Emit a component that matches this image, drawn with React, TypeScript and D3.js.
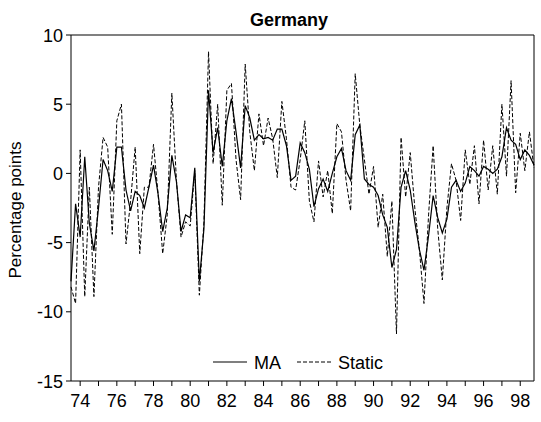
import React from "react";
import * as d3 from "d3";

const startYear = 1973.5; // 1973Q3
const ma = [
  -7.8, -2.2, -4.6, 1.2, -3.6, -5.6, -2.5, 1.0, 0.2, -1.3,
  1.9, 1.9, -1.2, -2.7, -1.3, -1.6, -2.5, -1.0, 0.6, -1.5,
  -4.2, -2.5, 1.3, -0.6, -4.2, -3.0, -3.2, 0.4, -7.8, -4.0,
  6.0, 1.5, 3.3, 0.5, 3.8, 5.4, 3.0, 0.4, 4.9, 4.0,
  2.4, 2.8, 2.5, 2.6, 2.4, 3.2, 3.2, 2.0, -0.5, -0.2,
  2.2, 1.5, 0.3, -2.4, -1.1, -0.4, -1.3, 0.0, 1.2, 1.8,
  0.2, -0.5, 2.8, 3.5, -0.4, -0.8, -1.0, -1.6, -3.0, -3.9,
  -6.8, -5.5, -1.0, 0.2, -1.2, -3.5, -5.5, -7.0, -4.5, -1.6,
  -3.2, -4.3, -3.3, -1.0, -0.5, -1.3, -0.7, 0.5, 0.2, -0.2,
  0.5, 0.3, 0.0, 0.3, 1.2, 3.3, 2.4, 2.1, 1.0, 1.7,
  1.3, 0.6,
];
const staticF = [
  -8.2, -9.4, 1.7, -8.9, -1.0, -8.9, -1.0, 2.6, 1.9, -4.4,
  3.8, 5.0, -5.1, -2.0, 1.9, -5.8, -1.0, -1.0, 2.1, -1.5,
  -5.8, -3.0, 5.8, -0.5, -4.6, -3.5, -3.8, 0.2, -8.8, -3.5,
  8.8, 0.7, 5.0, -2.3, 6.0, 6.5, 1.0, -1.9, 7.9, 3.0,
  0.2, 4.3, 2.0, 4.0, 2.5, -0.3, 5.2, 2.5, -1.0, -1.2,
  1.0, 3.8, -2.0, -3.5, 0.9, -1.7, 0.2, -2.9, 3.6, 3.0,
  -0.5, -2.7, 7.2, 3.5, 1.0, -1.5, 0.5, -3.9, -1.5, -6.0,
  -2.0, -11.6, 2.6, -1.7, 1.5, -2.5, -5.5, -9.4, -3.0, 2.0,
  -4.0, -7.7, -2.5, 0.7, -0.5, -3.4, 1.7, -0.8, 2.0, -2.2,
  2.4, -1.2, 2.0, -1.5, 5.0, -0.2, 6.7, -1.4, 2.9, 0.2,
  3.0, 0.4,
];
const yTicks = [10, 5, 0, -5, -10, -15];
const xTickYears = d3.range(1974, 1999);
const xLabelYears = d3.range(1974, 1999, 2);
const seriesNames = ["MA", "Static"];

const W = 541;
const H = 422;
const L = 71, R = 534, T = 35, B = 381;
const font = "'Liberation Sans', Arial, Helvetica, sans-serif";

export default function App() {
  const x = d3.scaleLinear().domain([startYear, startYear + 0.25 * (ma.length - 1)]).range([L, R]);
  const y = d3.scaleLinear().domain([-15, 10]).range([B, T]);
  const line = d3
    .line<number>()
    .x((_, i) => x(startYear + i * 0.25))
    .y((d) => y(d));

  return (
    <svg width={W} height={H} style={{ position: "absolute", left: 0, top: 0, background: "#fff" }}>
      <rect x={0} y={0} width={W} height={H} fill="#fff" />
      <text x={289} y={26} textAnchor="middle" fontFamily={font} fontWeight="bold" fontSize={18}>
        Germany
      </text>
      <text
        transform={`translate(21,${(T + B) / 2 + 2}) rotate(-90)`}
        textAnchor="middle"
        fontFamily={font}
        fontSize={17}
      >
        Percentage points
      </text>
      {/* data */}
      <path d={line(staticF) || ""} fill="none" stroke="#000" strokeWidth={1} strokeDasharray="4,2" />
      <path d={line(ma) || ""} fill="none" stroke="#000" strokeWidth={1.2} />
      {/* frame */}
      <line x1={L} x2={R} y1={T} y2={T} stroke="#808080" strokeWidth={2} />
      <line x1={L} x2={L} y1={T} y2={B} stroke="#000" strokeWidth={1} />
      <line x1={R} x2={R} y1={T} y2={B} stroke="#000" strokeWidth={1} />
      <line x1={L} x2={R} y1={B} y2={B} stroke="#000" strokeWidth={1} />
      {/* y ticks */}
      {yTicks.map((t) => (
        <g key={t}>
          <line x1={L - 5} x2={L} y1={y(t)} y2={y(t)} stroke="#000" strokeWidth={1} />
          <text x={L - 8} y={y(t) + 6.5} textAnchor="end" fontFamily={font} fontSize={18}>
            {t}
          </text>
        </g>
      ))}
      {/* x ticks */}
      {xTickYears.map((yr) => (
        <line key={yr} x1={x(yr)} x2={x(yr)} y1={B} y2={B + 5} stroke="#000" strokeWidth={1} />
      ))}
      {xLabelYears.map((yr) => (
        <text key={yr} x={x(yr)} y={407} textAnchor="middle" fontFamily={font} fontSize={18}>
          {String(yr).slice(2)}
        </text>
      ))}
      {/* legend */}
      <line x1={213} x2={247} y1={362} y2={362} stroke="#000" strokeWidth={1.2} />
      <text x={254} y={368.5} fontFamily={font} fontSize={18}>
        {seriesNames[0]}
      </text>
      <line x1={297} x2={333} y1={362} y2={362} stroke="#000" strokeWidth={1} strokeDasharray="4,2" />
      <text x={338} y={368.5} fontFamily={font} fontSize={18}>
        {seriesNames[1]}
      </text>
    </svg>
  );
}
